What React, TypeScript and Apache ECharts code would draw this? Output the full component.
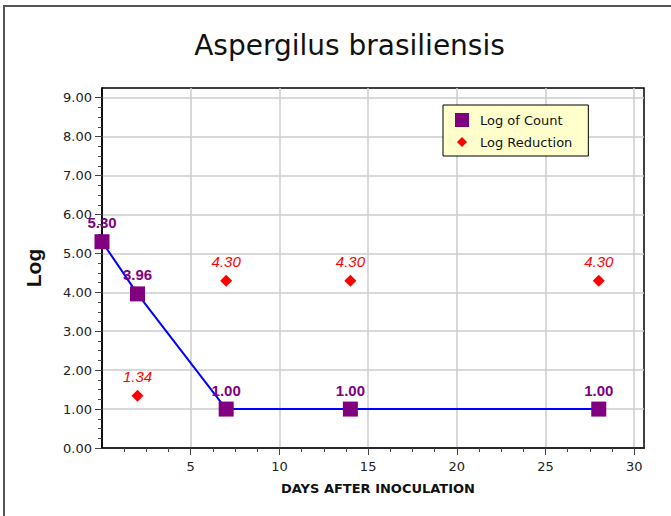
import React, { useEffect, useRef } from "react";
import * as echarts from "echarts";

const TITLE = "Aspergilus brasiliensis";
const X_NAME = "DAYS AFTER INOCULATION";
const Y_NAME = "Log";
const COUNT_NAME = "Log of Count";
const REDUCTION_NAME = "Log Reduction";

const countDays = [0, 2, 7, 14, 28];
const countValues = [5.3, 3.96, 1.0, 1.0, 1.0];
const reductionDays = [2, 7, 14, 28];
const reductionValues = [1.34, 4.3, 4.3, 4.3];

const xMajorTicks = [5, 10, 15, 20, 25, 30];
const yMajorTicks = [0, 1, 2, 3, 4, 5, 6, 7, 8, 9];
const X_MAX = 30.55;
const Y_MAX = 9.25;

function minorBetween(majors: number[], start: number, step: number, parts: number) {
  const out: number[] = [];
  const all = [start, ...majors.filter((v) => v !== start)];
  for (let i = 0; i < all.length - 1; i++) {
    for (let k = 1; k < parts; k++) out.push(all[i] + (k * step) / parts);
  }
  return out;
}

export default function App() {
  const ref = useRef<HTMLDivElement>(null);
  useEffect(() => {
    document.body.style.margin = "0";
    if (!ref.current) return;
    const chart = echarts.init(ref.current, null, { renderer: "svg" });
    const xMinor = minorBetween(xMajorTicks, 0, 5, 4);
    const yMinor = minorBetween(yMajorTicks, 0, 1, 4);
    const gridPos = { left: 102, right: 27, top: 88, bottom: 68 };
    const tickFont = { fontFamily: "DejaVu Sans", fontSize: 13, color: "#222" };
    chart.setOption({
      animation: false,
      backgroundColor: "#fff",
      graphic: [
        {
          type: "rect",
          shape: { x: 4, y: 6, width: 720, height: 600 },
          style: { fill: "none", stroke: "#555", lineWidth: 2 },
          silent: true,
          z: -1,
        },
        {
          type: "text",
          x: 349.5,
          y: 31,
          style: {
            text: TITLE,
            fontFamily: "DejaVu Sans",
            fontSize: 28,
            fill: "#111",
            align: "center",
            verticalAlign: "top",
          },
        },
      ],
      grid: [
        { ...gridPos, show: true, borderColor: "#000", borderWidth: 1.5, backgroundColor: "#fff" },
        { ...gridPos, show: false },
      ],
      legend: {
        orient: "vertical",
        left: 443,
        top: 105,
        backgroundColor: "#ffffcc",
        borderColor: "#000",
        borderWidth: 1,
        borderRadius: 0,
        padding: [8, 16, 7, 12],
        itemGap: 8,
        itemWidth: 14,
        itemHeight: 14,
        textStyle: { fontFamily: "DejaVu Sans", fontSize: 13, color: "#111", padding: [0, 0, 0, 6] },
        data: [
          { name: COUNT_NAME, icon: "rect" },
          { name: REDUCTION_NAME, icon: "path://M7,2L12,7L7,12L2,7Z M0,0 M14,14" },
        ],
      },
      xAxis: [
        {
          gridIndex: 0,
          type: "value",
          min: 0,
          max: X_MAX,
          interval: 5,
          name: X_NAME,
          nameLocation: "middle",
          nameGap: 34,
          nameTextStyle: { fontFamily: "DejaVu Sans", fontWeight: "bold", fontSize: 13, color: "#111", padding: [0, 0, 0, 10] },
          axisLine: { show: true, onZero: false, lineStyle: { color: "#000", width: 1.5 } },
          axisTick: { show: true, length: 7, customValues: xMajorTicks, lineStyle: { color: "#444" } },
          axisLabel: { ...tickFont, margin: 12, customValues: xMajorTicks },
          splitLine: { show: true, lineStyle: { color: "#cccccc", width: 1.5 } },
          minorTick: { show: false },
        },
        {
          gridIndex: 1,
          type: "value",
          min: 0,
          max: X_MAX,
          interval: 5,
          axisLine: { show: false },
          axisTick: { show: true, length: 4, customValues: xMinor, lineStyle: { color: "#444" } },
          axisLabel: { show: false },
          splitLine: { show: false },
        },
      ],
      yAxis: [
        {
          gridIndex: 0,
          type: "value",
          min: 0,
          max: Y_MAX,
          interval: 1,
          name: Y_NAME,
          nameLocation: "middle",
          nameGap: 58,
          nameTextStyle: { fontFamily: "Liberation Sans", fontWeight: "bold", fontSize: 21, color: "#111" },
          axisLine: { show: true, onZero: false, lineStyle: { color: "#000", width: 1.5 } },
          axisTick: { show: true, length: 7, customValues: yMajorTicks, lineStyle: { color: "#444" } },
          axisLabel: {
            ...tickFont,
            margin: 10,
            customValues: yMajorTicks,
            formatter: (v: number) => v.toFixed(2),
          },
          splitLine: { show: true, lineStyle: { color: "#cccccc", width: 1.5 } },
        },
        {
          gridIndex: 1,
          type: "value",
          min: 0,
          max: Y_MAX,
          interval: 1,
          axisLine: { show: false },
          axisTick: { show: true, length: 4, customValues: yMinor, lineStyle: { color: "#444" } },
          axisLabel: { show: false },
          splitLine: { show: false },
        },
      ],
      series: [
        {
          name: COUNT_NAME,
          type: "line",
          xAxisIndex: 0,
          yAxisIndex: 0,
          clip: false,
          data: countDays.map((d, i) => [d, countValues[i]]),
          symbol: "rect",
          symbolSize: 15,
          itemStyle: { color: "#800080", opacity: 1 },
          lineStyle: { color: "#0000ff", width: 2 },
          label: {
            show: true,
            position: "top",
            distance: 4,
            formatter: (p: any) => p.value[1].toFixed(2),
            color: "#800080",
            fontFamily: "Liberation Sans",
            fontWeight: "bold",
            fontSize: 15,
          },
          z: 3,
        },
        {
          name: REDUCTION_NAME,
          type: "scatter",
          xAxisIndex: 0,
          yAxisIndex: 0,
          clip: false,
          data: reductionDays.map((d, i) => [d, reductionValues[i]]),
          symbol: "diamond",
          symbolSize: 12,
          itemStyle: { color: "#ff0000", opacity: 1 },
          label: {
            show: true,
            position: "top",
            distance: 6,
            formatter: (p: any) => p.value[1].toFixed(2),
            color: "#ff0000",
            fontFamily: "Liberation Sans",
            fontStyle: "italic",
            fontSize: 15,
          },
          z: 4,
        },
      ],
    });
    return () => chart.dispose();
  }, []);
  return <div ref={ref} style={{ width: 671, height: 516 }} />;
}
